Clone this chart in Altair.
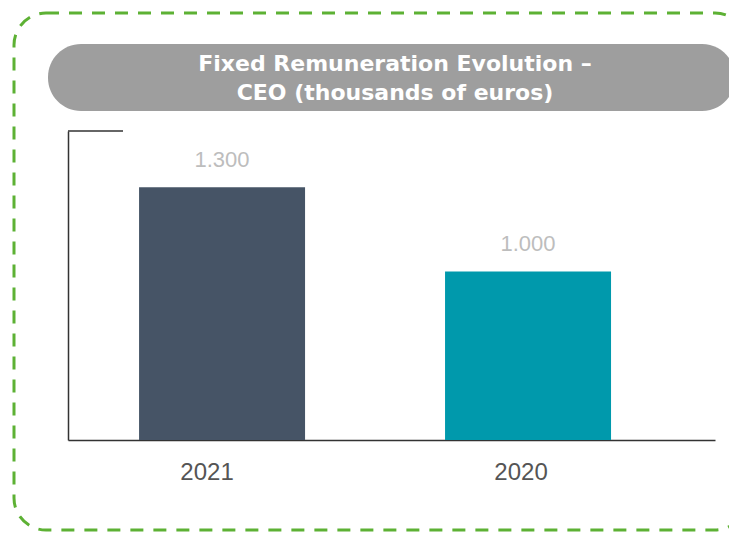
import altair as alt
import pandas as pd

# ---- data ----
years = ["2021", "2020"]
values = [1300, 1000]
bar_colors = ["#465466", "#0099AC"]
title_lines = ["Fixed Remuneration Evolution –", "CEO (thousands of euros)"]
y_domain = [400, 1500]

df = pd.DataFrame({"year": years, "value": values})
top_df = pd.DataFrame({"top": [y_domain[1]]})
one = pd.DataFrame({"k": [0]})

W, H = 647, 309
AXIS_COLOR = "#333333"

x_enc = alt.X(
    "year:N",
    sort=years,
    scale=alt.Scale(paddingInner=0.4575, paddingOuter=0.286, align=0.406),
    axis=alt.Axis(
        title=None, ticks=False, labelAngle=0, labelFont="Liberation Sans",
        labelFontSize=24, labelColor="#555555", labelPadding=20,
        domainColor=AXIS_COLOR, domainWidth=1.5,
        labelOffset={"condition": {"test": "datum.value == '2021'", "value": -15}, "value": -7},
    ),
)
y_enc = alt.Y(
    "value:Q",
    scale=alt.Scale(domain=y_domain, zero=False, nice=False),
    axis=alt.Axis(title=None, labels=False, ticks=False, grid=False,
                  domainColor=AXIS_COLOR, domainWidth=1.5),
)

bars = alt.Chart(df).mark_bar().encode(
    x=x_enc,
    y=y_enc,
    y2=alt.datum(y_domain[0]),
    color=alt.Color("year:N", scale=alt.Scale(domain=years, range=bar_colors), legend=None),
)

labels = alt.Chart(df).transform_calculate(
    label="replace(format(datum.value, ','), ',', '.')"
).mark_text(
    font="Liberation Sans", fontSize=22, color="#BDBDBD", baseline="alphabetic", dy=-20
).encode(
    x=alt.X("year:N", sort=years),
    y=alt.Y("value:Q"),
    text="label:N",
)

top_tick = alt.Chart(top_df).mark_rule(color=AXIS_COLOR, strokeWidth=1.5).encode(
    y=alt.Y("top:Q"),
    x=alt.value(0),
    x2=alt.value(55),
)

border = alt.Chart(one).mark_rect(
    fill="transparent", stroke="#5DB134", strokeWidth=3, strokeDash=[13, 10], cornerRadius=32
).encode(
    x=alt.value(-54), x2=alt.value(679), y=alt.value(-118), y2=alt.value(399)
)

pill = alt.Chart(one).mark_rect(color="#9E9E9E", cornerRadius=33).encode(
    x=alt.value(-20), x2=alt.value(667), y=alt.value(-87), y2=alt.value(-20)
)

title = alt.Chart(one).mark_text(
    text=title_lines, font="DejaVu Sans", fontWeight="bold", fontSize=22,
    color="white", align="center", baseline="middle", lineHeight=29,
).encode(x=alt.value(327), y=alt.value(-67))

chart = alt.layer(border, pill, title, bars, labels, top_tick).properties(
    width=W,
    height=H,
    autosize=alt.AutoSizeParams(type="none"),
    padding={"left": 60, "top": 123, "right": 14, "bottom": 92},
).configure_view(stroke="transparent")

chart.save("out.html", embed_options={"renderer": "svg", "actions": False})
